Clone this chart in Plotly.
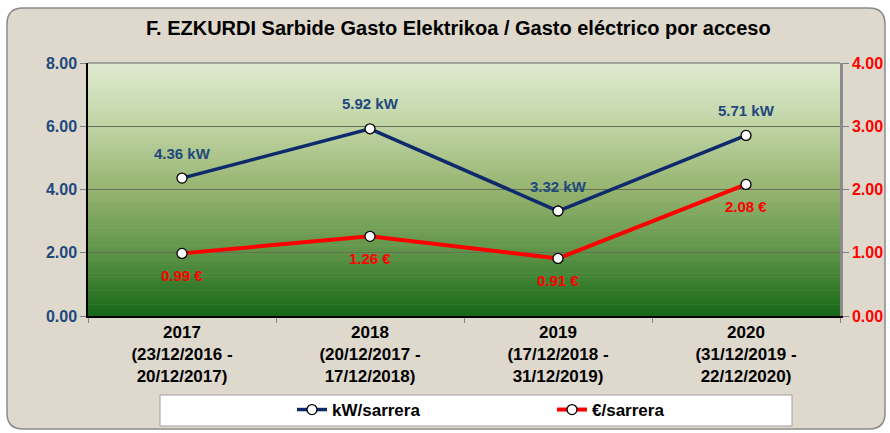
import plotly.graph_objects as go

# data
YEARS = [
    "2017<br>(23/12/2016 -<br>20/12/2017)",
    "2018<br>(20/12/2017 -<br>17/12/2018)",
    "2019<br>(17/12/2018 -<br>31/12/2019)",
    "2020<br>(31/12/2019 -<br>22/12/2020)",
]
KW_PER_ACCESS = [4.36, 5.92, 3.32, 5.71]
EUR_PER_ACCESS = [0.99, 1.26, 0.91, 2.08]

TITLE = "F. EZKURDI Sarbide Gasto Elektrikoa / Gasto eléctrico por acceso"

COLORS = {
    "navy":   "#0E2A6C",
    "blue_t": "#1F497D",
    "red":    "#FF0000",
    "paper":  "#DED8CD",
    "border": "#8A8A8A",
    "grid":   "#66705A",
}

W, H = 890, 433
L, R, T, B = 88, 50, 63, 117
PW, PH = W - L - R, H - T - B
FONT = "Liberation Sans, Arial, sans-serif"


def px(x):
    return (x - L) / PW


def py(y):
    return (H - B - y) / PH


def _mix(c1, c2, t):
    return "#" + "".join(f"{round(a + (b - a) * t):02X}" for a, b in zip(c1, c2))


GRAD = [
    (0.0, (222, 234, 208)),
    (0.25, (192, 212, 164)),
    (0.5, (150, 180, 112)),
    (0.75, (95, 148, 72)),
    (1.0, (25, 104, 25)),
]


def _grad_color(t):
    for (t0, c0), (t1, c1) in zip(GRAD, GRAD[1:]):
        if t <= t1:
            return _mix(c0, c1, (t - t0) / (t1 - t0))
    return _mix(GRAD[-1][1], GRAD[-1][1], 0)


shapes = []
# card background with rounded corners
x0, x1, y0, y1, r = px(7), px(885), py(429), py(8), 16
rx, ry = r / PW, r / PH
shapes.append(dict(
    type="path", xref="paper", yref="paper", layer="below",
    path=(f"M {x0 + rx} {y0} L {x1 - rx} {y0} Q {x1} {y0} {x1} {y0 + ry} "
          f"L {x1} {y1 - ry} Q {x1} {y1} {x1 - rx} {y1} L {x0 + rx} {y1} "
          f"Q {x0} {y1} {x0} {y1 - ry} L {x0} {y0 + ry} Q {x0} {y0} {x0 + rx} {y0} Z"),
    fillcolor=COLORS["paper"], line=dict(color=COLORS["border"], width=1.5),
))
# vertical gradient in plot area
N = 90
for i in range(N):
    shapes.append(dict(
        type="rect", xref="paper", yref="paper", layer="below",
        x0=0, x1=1, y0=1 - (i + 1) / N, y1=1 - i / N + 0.002,
        fillcolor=_grad_color(i / (N - 1)), line=dict(width=0),
    ))
# top border of the plot area
shapes.append(dict(type="line", xref="paper", yref="paper", x0=0, x1=1, y0=1, y1=1,
                   line=dict(color="#8C8C8C", width=1.5)))
# legend box
shapes.append(dict(type="rect", xref="paper", yref="paper", layer="below",
                   x0=px(160), x1=px(792), y0=py(426), y1=py(395),
                   fillcolor="white", line=dict(color="#A0A0A0", width=1)))

fig = go.Figure()
fig.add_trace(go.Scatter(
    x=YEARS, y=KW_PER_ACCESS, name="kW/sarrera", mode="lines+markers",
    line=dict(color=COLORS["navy"], width=3.5),
    marker=dict(size=10, color="white", line=dict(color="black", width=1.3)),
))
fig.add_trace(go.Scatter(
    x=YEARS, y=EUR_PER_ACCESS, name="€/sarrera", mode="lines+markers", yaxis="y2",
    line=dict(color=COLORS["red"], width=4),
    marker=dict(size=10, color="white", line=dict(color="black", width=1.3)),
))

annotations = []
for cat, v in zip(YEARS, KW_PER_ACCESS):
    annotations.append(dict(
        x=cat, y=v, xref="x", yref="y", text=f"{v:.2f} kW", showarrow=False,
        yshift=25, font=dict(family=FONT, size=15, color=COLORS["blue_t"], weight="bold"),
    ))
for cat, v in zip(YEARS, EUR_PER_ACCESS):
    annotations.append(dict(
        x=cat, y=v, xref="x", yref="y2", text=f"{v:.2f} €", showarrow=False,
        yshift=-22, font=dict(family=FONT, size=15, color=COLORS["red"], weight="bold"),
    ))

fig.update_layout(
    width=W, height=H,
    margin=dict(l=L, r=R, t=T, b=B, autoexpand=False),
    paper_bgcolor="white",
    plot_bgcolor="rgba(0,0,0,0)",
    font=dict(family=FONT, color="black"),
    title=dict(text=TITLE, x=0.515, xanchor="center", y=1 - 28 / H, yanchor="middle",
               font=dict(family=FONT, size=20, color="black", weight="bold")),
    xaxis=dict(
        type="category", range=[-0.5, len(YEARS) - 0.5],
        showgrid=False, zeroline=False,
        showline=True, linecolor="black", linewidth=1.5,
        ticks="outside", tickson="boundaries", ticklen=5, tickcolor="#808080",
        tickfont=dict(family=FONT, size=17, color="black", weight="bold"),
    ),
    yaxis=dict(
        range=[0, 8], dtick=2, tickformat=".2f",
        showgrid=True, gridcolor=COLORS["grid"], gridwidth=1.2, zeroline=False,
        showline=True, linecolor="black", linewidth=1.5,
        ticks="outside", ticklen=6, tickcolor="#808080",
        tickfont=dict(family=FONT, size=16, color=COLORS["blue_t"], weight="bold"),
    ),
    yaxis2=dict(
        range=[0, 4], dtick=1, tickformat=".2f", overlaying="y", side="right",
        showgrid=False, zeroline=False,
        showline=True, linecolor="#8C8C8C", linewidth=2.5,
        ticks="outside", ticklen=6, tickcolor="#808080",
        tickfont=dict(family=FONT, size=16, color=COLORS["red"], weight="bold"),
    ),
    showlegend=True,
    legend=dict(
        orientation="h", x=px(292), xanchor="left", y=py(410), yanchor="middle",
        bgcolor="rgba(0,0,0,0)", borderwidth=0,
        entrywidth=215, entrywidthmode="pixels",
        font=dict(family=FONT, size=17, color="black", weight="bold"),
    ),
    shapes=shapes,
    annotations=annotations,
)

fig.write_html("out.html", config={"displayModeBar": False},
               post_script="document.body.style.margin = '0';")
